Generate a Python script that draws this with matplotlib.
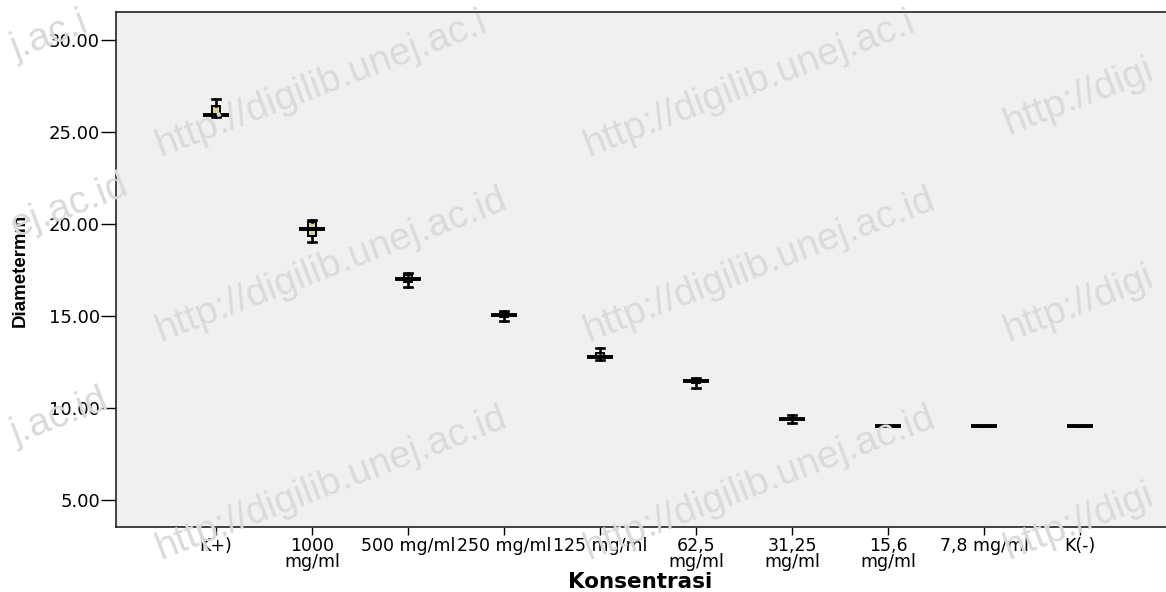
import matplotlib
matplotlib.use("Agg")
import matplotlib.pyplot as plt
import numpy as np

# ---- data ----
categories = ['K+)', '1000\nmg/ml', '500 mg/ml', '250 mg/ml', '125 mg/ml',
              '62,5\nmg/ml', '31,25\nmg/ml', '15,6\nmg/ml', '7,8 mg/ml', 'K(-)']
medians = [25.9, 19.7, 17.0, 15.05, 12.75, 11.45, 9.4, 9.0, 9.0, 9.0]
q1 = [25.85, 19.35, 16.85, 14.95, 12.75, 11.35, 9.35, 9.0, 9.0, 9.0]
q3 = [26.4, 20.1, 17.2, 15.15, 13.0, 11.55, 9.45, 9.0, 9.0, 9.0]
whislo = [25.8, 19.0, 16.6, 14.7, 12.6, 11.1, 9.2, 9.0, 9.0, 9.0]
whishi = [26.8, 20.2, 17.35, 15.25, 13.25, 11.65, 9.6, 9.0, 9.0, 9.0]
yticks = [5, 10, 15, 20, 25, 30]
ytick_labels = ['5.00', '10.00', '15.00', '20.00', '25.00', '30.00']
watermark = 'http://digilib.unej.ac.id'
watermark_top = 'http://digilib.unej.ac.i'
watermark_left = ['j.ac.i', 'ej.ac.id', 'j.ac.id']
watermark_right = 'http://digi'

W, H = 1166, 592
fig = plt.figure(figsize=(W / 100, H / 100), dpi=100)
fig.patch.set_facecolor('white')

wm_style = dict(fontsize=28, color='#dadada', rotation=21, rotation_mode='anchor',
                ha='left', va='baseline', family='Liberation Sans', zorder=10)
# top row (truncated as in the reference)
for xs in [160, 588]:
    fig.text(xs / W, 1 - 157 / H, watermark_top, **wm_style)
# middle and bottom rows
for ys in [342, 560]:
    for xs in [160, 588]:
        fig.text(xs / W, 1 - ys / H, watermark, **wm_style)
for ys in [135, 342, 560]:
    fig.text(1008 / W, 1 - ys / H, watermark_right, **wm_style)
for ys, t in zip([60, 238, 445], watermark_left):
    fig.text(16 / W, 1 - ys / H, t, **wm_style)

ax = fig.add_axes([116 / W, 1 - 527 / H, 1 - 116 / W, (527 - 12) / H])
ax.set_facecolor('#f0f0f0')

pos = np.arange(len(categories))
stats = []
for i in range(len(categories)):
    stats.append(dict(med=medians[i], q1=q1[i], q3=q3[i],
                      whislo=whislo[i], whishi=whishi[i], fliers=[]))

ax.bxp(stats, positions=pos, widths=0.08, patch_artist=True, showfliers=False,
       boxprops=dict(facecolor='#d6d09a', edgecolor='black', linewidth=1.4),
       whiskerprops=dict(color='black', linewidth=1.9),
       capprops=dict(color='black', linewidth=1.9),
       capwidths=0.08,
       medianprops=dict(linewidth=0))
ax.hlines(medians, pos - 0.135, pos + 0.135, colors='black', linewidth=2.8, zorder=5)

ax.set_xlim(-1.042, 9.896)
ax.set_ylim(3.53, 31.52)
ax.set_yticks(yticks)
ax.set_yticklabels(ytick_labels)
ax.set_xticks(pos)
ax.set_xticklabels(categories, linespacing=0.9)

ax.tick_params(axis='y', direction='out', length=10.5, width=1, pad=1,
               labelsize=13, colors='black')
ax.tick_params(axis='x', direction='out', length=6, width=1, pad=1,
               labelsize=12.5, colors='black')
for lab in ax.get_xticklabels() + ax.get_yticklabels():
    lab.set_family('DejaVu Sans')

for s in ['left', 'bottom', 'top']:
    ax.spines[s].set_color('#222222')
    ax.spines[s].set_linewidth(1.2)
ax.spines['right'].set_visible(False)

fig.text(640 / W, 1 - 582 / H, 'Konsentrasi', fontsize=15.5, fontweight='bold',
         family='DejaVu Sans', ha='center', va='center')
fig.text(20 / W, 1 - 270 / H, 'Diametermm', fontsize=13.5, fontweight='bold',
         family='Liberation Sans', rotation=90, ha='center', va='center')

fig.savefig('out.png', dpi=100)
